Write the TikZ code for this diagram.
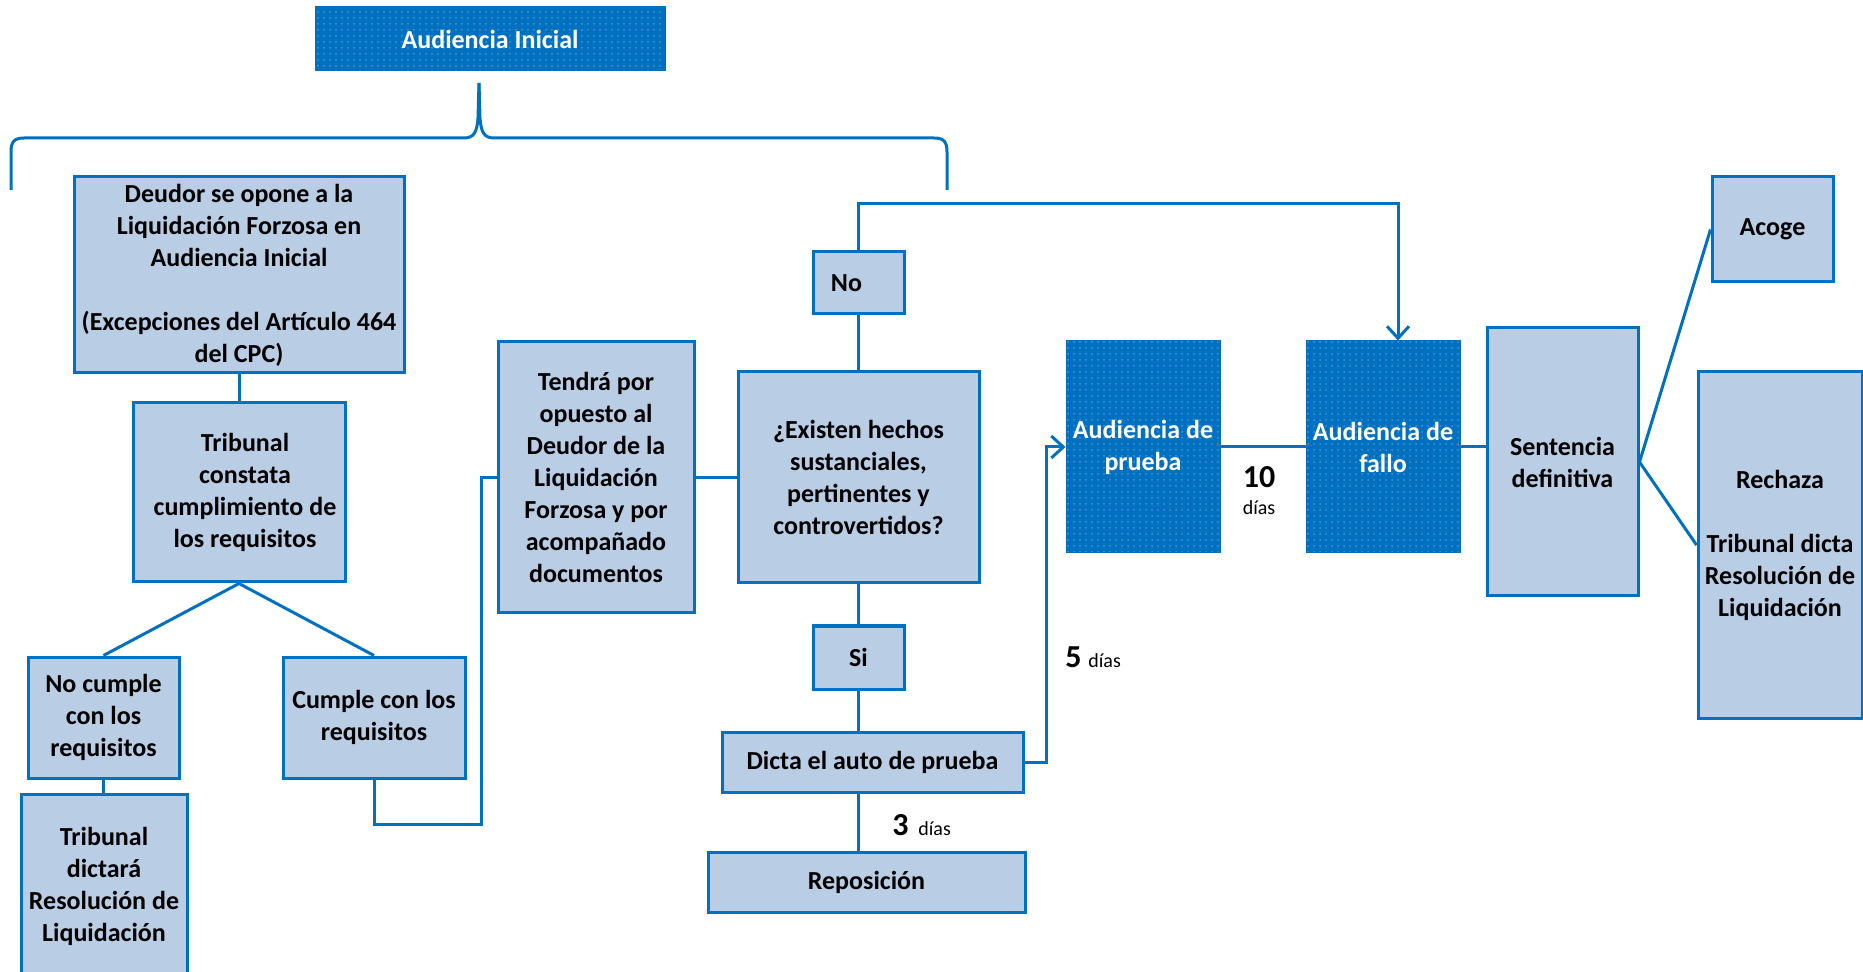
\documentclass[tikz,border=0pt]{standalone}
\usepackage{fontspec}
\setmainfont{Carlito}
\usetikzlibrary{arrows.meta,patterns}
\definecolor{bl}{HTML}{0070C0}
\definecolor{lb}{HTML}{B9CDE5}
\definecolor{dotc}{HTML}{4A94D2}
\tikzset{
  box/.style={draw=bl, line width=1.5pt, fill=lb, inner sep=0pt, align=center,
     font=\fontsize{13}{16}\selectfont\bfseries, text=black},
  dbox/.style={draw=bl, line width=1.5pt, fill=bl, inner sep=0pt, align=center,
     font=\fontsize{13}{16}\selectfont\bfseries, text=white,
     postaction={pattern=dots, pattern color=dotc}},
  sz/.style 2 args={minimum width=#1pt, minimum height=#2pt},
  conn/.style={draw=bl, line width=1.5pt},
  arr/.style={conn, -{Straight Barb[length=6pt,width=11pt,line width=1.5pt]}},
  big/.style={font=\fontsize{16}{18}\selectfont\bfseries, inner sep=0pt},
  small/.style={font=\fontsize{10}{12}\selectfont, inner sep=0pt}
}
\begin{document}
\begin{tikzpicture}[x=0.5pt,y=-0.5pt]
\useasboundingbox (0,0) rectangle (1863,972);
\clip (0,0) rectangle (1863,972);
% nodes
\node[dbox, sz={174}{31}] (ai) at (490,39) {Audiencia Inicial};
\node[box, sz={165}{98}] (deudor) at (239,275) {Deudor se opone a la\\Liquidación Forzosa en\\Audiencia Inicial\\[16pt](Excepciones del Artículo 464\\del CPC)};
\node[box, sz={106}{89.5}] (trib) at (239,492.5) {\hspace*{6pt}Tribunal\\\hspace*{6pt}constata\\\hspace*{6pt}cumplimiento de\\\hspace*{6pt}los requisitos};
\node[box, sz={75.5}{60.5}] (nocum) at (103.5,717.5) {No cumple\\con los\\requisitos};
\node[box, sz={83}{92}] (tribd) at (104,886) {Tribunal\\dictará\\Resolución de\\Liquidación};
\node[box, sz={91}{60.5}] (cumple) at (374,717.5) {Cumple con los\\requisitos};
\node[box, sz={98}{135.5}] (tendra) at (596,477.5) {Tendrá por\\opuesto al\\Deudor de la\\Liquidación\\Forzosa y por\\acompañado\\documentos};
\node[box, sz={120.5}{105.5}] (existen) at (858.5,477.5) {¿Existen hechos\\sustanciales,\\pertinentes y\\controvertidos?};
\node[box, sz={45.5}{31}] (no) at (858.5,283) {\hspace*{-12pt}No};
\node[box, sz={45.5}{31.5}] (si) at (858.5,657.5) {Si};
\node[box, sz={150.5}{30}] (dicta) at (872.5,762) {Dicta el auto de prueba};
\node[box, sz={158.5}{30}] (repo) at (866.5,882) {Reposición};
\node[dbox, sz={76}{105}] (aprueba) at (1143,447) {Audiencia de\\prueba};
\node[dbox, sz={76}{105}] (afallo) at (1383,447) {Audiencia de\\fallo};
\node[box, sz={75.5}{134}] (sent) at (1562.5,462) {Sentencia\\definitiva};
\node[box, sz={60.5}{52.5}] (acoge) at (1772.5,229.5) {Acoge};
\node[box, sz={82}{173}] (rechaza) at (1780,545) {Rechaza\\[16pt]Tribunal dicta\\Resolución de\\Liquidación};
% labels
\node[big, anchor=base east] (n3) at (909,835) {3};
\node[small, anchor=base west] (d3) at (918,835) {días};
\node[big, anchor=base east] (n5) at (1082,668) {5};
\node[small, anchor=base west] (d5) at (1088,668) {días};
\node[big] (n10) at (1259,477) {10};
\node[small] (d10) at (1259,508) {días};
% brace
\draw[conn, line join=round] (11,190) -- (11,152) .. controls (11,142) and (14,138) .. (24,138)
  -- (464,138) .. controls (474,138) and (477,132) .. (478,118) -- (479,83);
\draw[conn, line join=round] (947,190) -- (947,152) .. controls (947,142) and (944,138) .. (934,138)
  -- (494,138) .. controls (484,138) and (481,132) .. (480,118) -- (479,83);
% coordinates
\coordinate (c1) at (481,824);
\coordinate (k1) at (1046,0);
\coordinate (k3) at (1398,204);
% connectors
\draw[conn] (deudor.south -| trib.north) -- (trib.north);
\draw[conn] (trib.south) -- (nocum.north);
\draw[conn] (trib.south) -- (cumple.north);
\draw[conn] (nocum.south) -- (nocum.south |- tribd.north);
\draw[conn] (cumple.south) |- (c1) |- (tendra.west);
\draw[conn] (tendra.east) -- (existen.west);
\draw[conn] (existen.north) -- (no.south);
\draw[conn] (existen.south) -- (si.north);
\draw[conn] (si.south) -- (si.south |- dicta.north);
\draw[conn] (si.south |- dicta.south) -- (si.south |- repo.north);
\draw[arr] (no.north) |- (k3) -- (k3 |- afallo.north);
\draw[arr] (dicta.east) -- (dicta.east -| k1) |- (aprueba.west);
\draw[conn] (aprueba.east) -- (afallo.west);
\draw[conn] (afallo.east) -- (afallo.east -| sent.west);
\draw[conn] (sent.east) -- (acoge.west);
\draw[conn] (sent.east) -- (rechaza.west);
\end{tikzpicture}
\end{document}
